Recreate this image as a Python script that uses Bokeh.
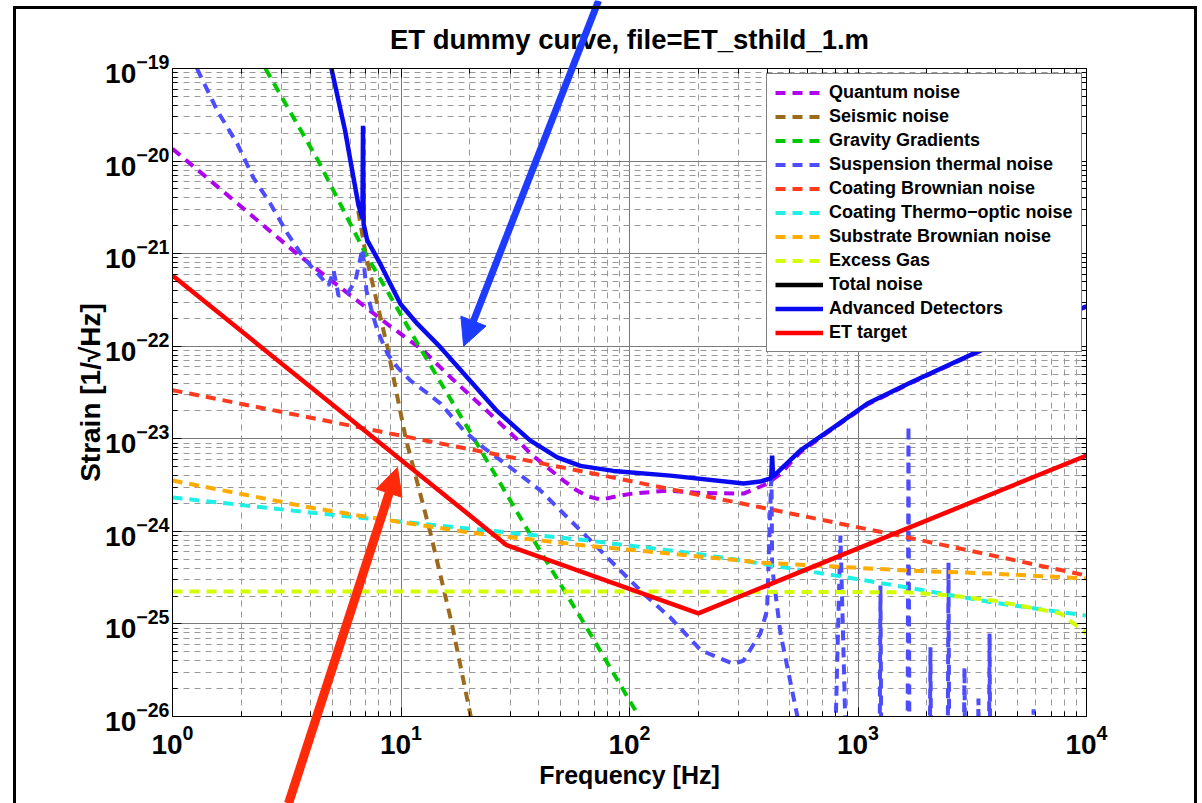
from bokeh.plotting import figure
from bokeh.layouts import column
from bokeh.models import (Range1d, FixedTicker, LogAxis, Legend, LegendItem, Arrow,
                          NormalHead, CustomJSTickFormatter, Div)
from bokeh.embed import file_html
from bokeh.resources import INLINE

FONT = "Liberation Sans"

# ---------------- data ----------------
quantum_f = [1, 3.5, 8.7, 12.5, 16.5, 23.8, 32, 36.9, 51.4, 59, 65.3, 75, 85, 101, 147, 205, 316,
             402, 458, 560, 780, 1100, 1700, 3400, 10000]
quantum_s = [1.36e-20, 1.0e-21, 1.74e-22, 9.0e-23, 4.6e-23, 2.0e-23, 1.0e-23, 6.9e-24, 3.54e-24,
             2.76e-24, 2.4e-24, 2.2e-24, 2.35e-24, 2.54e-24, 2.76e-24, 2.6e-24, 2.56e-24,
             3.28e-24, 4.2e-24, 7.2e-24, 1.3e-23, 2.35e-23, 4.0e-23, 8.8e-23, 2.68e-22]

seismic_f = [6.5, 7.0, 8.7, 10.5, 13.4, 16.7, 20.2]
seismic_s = [2.9e-21, 1.0e-21, 1.0e-22, 1.0e-23, 1.0e-24, 1.0e-25, 1.0e-26]

gravity_f = [2.55, 4.35, 7.0, 12.0, 20.9, 36.1, 63.5, 110]
gravity_s = [1e-19, 1e-20, 1e-21, 1e-22, 1e-23, 1e-24, 1e-25, 1e-26]

susp_f = [1.28, 1.57, 1.92, 2.26, 2.68, 3.19, 3.74, 4.31, 4.82, 5.07, 5.33, 5.83, 6.32, 6.78,
          7.06, 7.5, 7.89, 8.73, 9.65, 11.0, 13.1, 14.9, 18.8, 23.0, 30.1, 40.8, 51.4, 65.5,
          88.5, 115, 151, 205, 285, 315, 374, 400, 418, 421, 458, 543,
          781, 838, 900, 1240, 1254, 1268, 1645, 1663, 1681, 2055, 2075, 2095,
          2465, 2489, 2513, 2895, 2924, 2953, 3335, 3366, 3397, 3730, 3765, 3800,
          5810, 5865, 5920, 10000]
susp_s = [1e-19, 3.5e-20, 1.54e-20, 6.6e-21, 3.47e-21, 1.64e-21, 9.1e-22, 6.1e-22, 4.5e-22,
          6.6e-22, 3.5e-22, 3.7e-22, 5.1e-22, 1.13e-21, 3.98e-22, 2.25e-22, 1.47e-22, 8.3e-23,
          5.9e-23, 4.25e-23, 3.08e-23, 2.4e-23, 1.23e-23, 8.0e-24, 4.9e-24, 2.76e-24, 1.56e-24,
          8.6e-25, 4.06e-25, 2.13e-25, 1.17e-25, 5.2e-26, 3.7e-26, 4.0e-26, 7.9e-26, 1.4e-25,
          4.5e-24, 4.1e-25, 7.9e-26, 1.0e-26,
          1e-27, 9.0e-25, 1e-27, 1e-27, 2.6e-25, 1e-27, 1e-27, 1.39e-23, 1e-27, 1e-27, 5.6e-26, 1e-27,
          1e-27, 4.6e-25, 1e-27, 1e-27, 3.4e-26, 1e-27, 1e-27, 1.56e-26, 1e-27, 1e-27, 7.9e-26, 1e-27,
          1e-27, 1.2e-26, 1e-27, 1e-27]

coat_br_f = [1, 10, 65, 374, 1650, 10000]
coat_br_s = [3.35e-23, 1.08e-23, 4.35e-24, 1.82e-24, 8.6e-25, 3.33e-25]

coat_to_f = [1, 4.0, 7.4, 20, 65, 200, 374, 955, 1650, 3900, 10000]
coat_to_s = [2.32e-24, 1.6e-24, 1.37e-24, 1.07e-24, 8.0e-25, 5.7e-25, 4.5e-25, 3.1e-25,
             2.47e-25, 1.7e-25, 1.23e-25]

subst_f = [1, 4.0, 7.4, 20, 65, 151, 374, 955, 1650, 3900, 10000]
subst_s = [3.54e-24, 1.81e-24, 1.41e-24, 9.7e-25, 7.0e-25, 5.75e-25, 4.6e-25, 4.06e-25,
           3.77e-25, 3.5e-25, 3.1e-25]

gas_f = [1, 100, 1650, 2540, 3915, 7690, 10000]
gas_s = [2.24e-25, 2.24e-25, 2.2e-25, 2.03e-25, 1.79e-25, 1.3e-25, 7.9e-26]

# total noise is not visible in the reference (only its legend entry)
total_f = [1e5]
total_s = [1e-30]

adv_f = [4.96, 5.7, 6.11, 6.52, 6.78, 6.82, 6.86, 7.11, 8.13, 9.95, 11.8, 14.9, 19.5, 26.3,
         36.7, 48.3, 61, 85, 151, 316, 374, 417, 421, 425, 560, 780, 1100, 1700, 3400, 10000]
adv_s = [1.0e-19, 2.1e-20, 8.0e-21, 3.3e-21, 2.4e-21, 2.4e-20, 2.1e-21, 1.4e-21, 7.7e-22,
         2.86e-22, 1.74e-22, 9.7e-23, 4.6e-23, 2.0e-23, 9.6e-24, 6.3e-24, 5.1e-24, 4.5e-24,
         4.0e-24, 3.28e-24, 3.45e-24, 3.75e-24, 6.6e-24, 3.9e-24, 7.5e-24, 1.32e-23, 2.4e-23,
         4.05e-23, 8.9e-23, 2.7e-22]

et_f = [1, 29, 200, 10000]
et_s = [5.8e-22, 7.1e-25, 1.3e-25, 6.6e-24]

x_ticks = [1, 10, 100, 1000, 10000]
y_ticks = [1e-26, 1e-25, 1e-24, 1e-23, 1e-22, 1e-21, 1e-20, 1e-19]
x_minor = [m * t for t in x_ticks[:-1] for m in range(2, 10)]
y_minor = [m * t for t in y_ticks[:-1] for m in range(2, 10)]

# annotation arrows: (frequency, strain) of tail and of tip
arrow_blue_f = [73.2, 18.8]
arrow_blue_s = [5.4e-19, 1.0e-22]
arrow_red_f = [3.22, 9.65]
arrow_red_s = [1.15e-27, 4.9e-24]

series = [
    ("Quantum noise", quantum_f, quantum_s, "#b000f0", "dashed"),
    ("Seismic noise", seismic_f, seismic_s, "#9c6a1c", "dashed"),
    ("Gravity Gradients", gravity_f, gravity_s, "#00c800", "dashed"),
    ("Suspension thermal noise", susp_f, susp_s, "#4d4dff", "dashed"),
    ("Coating Brownian noise", coat_br_f, coat_br_s, "#ff3b1f", "dashed"),
    ("Coating Thermo\u2212optic noise", coat_to_f, coat_to_s, "#1ef0e6", "dashed"),
    ("Substrate Brownian noise", subst_f, subst_s, "#ffab00", "dashed"),
    ("Excess Gas", gas_f, gas_s, "#d2ff00", "dashed"),
    ("Total noise", total_f, total_s, "#000000", "solid"),
    ("Advanced Detectors", adv_f, adv_s, "#0a0aee", "solid"),
    ("ET target", et_f, et_s, "#ff0000", "solid"),
]

# ---------------- main figure ----------------
W, H = 1202, 803
BL, BR, BT, BB = 172, 116, 68, 87
p = figure(width=W, height=H, x_axis_type="log", y_axis_type="log",
           x_range=Range1d(1, 1e4), y_range=Range1d(1e-26, 1e-19),
           output_backend="svg", toolbar_location=None,
           min_border_left=BL, min_border_right=BR, min_border_top=BT, min_border_bottom=BB,
           title="ET dummy curve, file=ET_sthild_1.m")
p.title.align = "center"
p.title.text_font = FONT
p.title.text_font_size = "27.5px"
p.title.text_font_style = "bold"
p.title.text_color = "black"
p.title.standoff = 27

p.background_fill_color = "white"
p.border_fill_color = "white"
p.outline_line_color = "black"
p.outline_line_width = 1

p.xaxis.ticker = FixedTicker(ticks=x_ticks, minor_ticks=x_minor)
p.yaxis.ticker = FixedTicker(ticks=y_ticks, minor_ticks=y_minor)

for ax in [p.xaxis[0], p.yaxis[0]]:
    ax.axis_line_color = "black"
    ax.major_tick_in = 9
    ax.major_tick_out = 0
    ax.minor_tick_in = 5
    ax.minor_tick_out = 0
    ax.major_tick_line_color = "black"
    ax.minor_tick_line_color = "black"
    ax.major_label_text_font = FONT
    ax.major_label_text_font_style = "bold"
    ax.major_label_text_font_size = "28px"
    ax.major_label_text_color = "black"
    ax.axis_label_text_font = FONT
    ax.axis_label_text_font_style = "bold"
    ax.axis_label_text_color = "black"

p.xaxis.axis_label = "Frequency [Hz]"
p.xaxis.axis_label_text_font_size = "25px"
p.xaxis.major_label_standoff = 8
p.xaxis.axis_label_standoff = 4
p.yaxis.axis_label = "Strain [1/\u221aHz]"
p.yaxis.axis_label_text_font_size = "28px"
p.yaxis.major_label_standoff = 3
p.yaxis.axis_label_standoff = -4

blank = CustomJSTickFormatter(code="return ''")
for loc, tk in [("right", FixedTicker(ticks=y_ticks, minor_ticks=y_minor)),
                ("above", FixedTicker(ticks=x_ticks, minor_ticks=x_minor))]:
    ax = LogAxis(ticker=tk, formatter=blank, major_tick_in=9, major_tick_out=0,
                 minor_tick_in=5, minor_tick_out=0, axis_line_color="black",
                 major_tick_line_color="black", minor_tick_line_color="black",
                 major_label_standoff=0, major_label_text_font_size="10px")
    p.add_layout(ax, loc)

for g in [p.xgrid[0], p.ygrid[0]]:
    g.grid_line_color = "#7a7a7a"
    g.grid_line_width = 1
    g.minor_grid_line_color = "#999999"
    g.minor_grid_line_width = 1
    g.minor_grid_line_dash = "6 5"

items = []
for name, fx, sy, col, style in series:
    dash = "10 7" if style == "dashed" else "solid"
    lw = 4 if style == "dashed" else 4.5
    r = p.line(x=fx, y=sy, line_color=col, line_width=lw, line_dash=dash)
    items.append(LegendItem(label=name, renderers=[r]))

legend = Legend(items=items, location=(594, 364))
legend.label_text_font = FONT
legend.label_text_font_size = "18px"
legend.label_text_font_style = "bold"
legend.label_text_color = "black"
legend.glyph_width = 48
legend.glyph_height = 19
legend.label_height = 19
legend.spacing = 3
legend.padding = 8
legend.label_standoff = 6
legend.margin = 0
legend.border_line_color = "black"
legend.border_line_width = 1
legend.background_fill_color = "white"
legend.background_fill_alpha = 1
p.add_layout(legend)

# ---------------- transparent overlay for the arrows (taller frame, so not cut at the axes) ----
KY = (H - BT - BB) / 7.0   # pixels per decade, y
OT = 0
ov = figure(width=W, height=H, x_axis_type="log", y_axis_type="log",
            x_range=Range1d(1, 1e4),
            y_range=Range1d(10 ** (-26 - BB / KY), 10 ** (-19 + (BT - OT) / KY)),
            x_axis_location=None, y_axis_location=None,
            output_backend="svg", toolbar_location=None,
            min_border_left=BL, min_border_right=BR, min_border_top=OT, min_border_bottom=0)
ov.grid.visible = False
ov.background_fill_alpha = 0
ov.border_fill_alpha = 0
ov.outline_line_color = None
ov.margin = (-H, 0, 0, 0)

for fs, ss, col, sw in [(arrow_blue_f, arrow_blue_s, "#1e3cff", 7),
                        (arrow_red_f, arrow_red_s, "#ff2a0a", 9)]:
    ov.add_layout(Arrow(end=NormalHead(size=27, fill_color=col, line_color=col, line_width=1),
                        x_start=fs[0], y_start=ss[0], x_end=fs[1], y_end=ss[1],
                        line_color=col, line_width=sw))

# outer black frame of the whole figure (open at the bottom)
frame_div = Div(text="", width=1184, height=797, margin=(-797, 0, 0, 13),
                styles={"border-top": "3px solid black", "border-left": "3px solid black",
                        "border-right": "3px solid black", "box-sizing": "border-box",
                        "background": "transparent"})

p.margin = (0, 0, 0, 0)
layout = column(p, ov, frame_div, spacing=0)

open("out.html", "w").write(file_html(layout, INLINE))
